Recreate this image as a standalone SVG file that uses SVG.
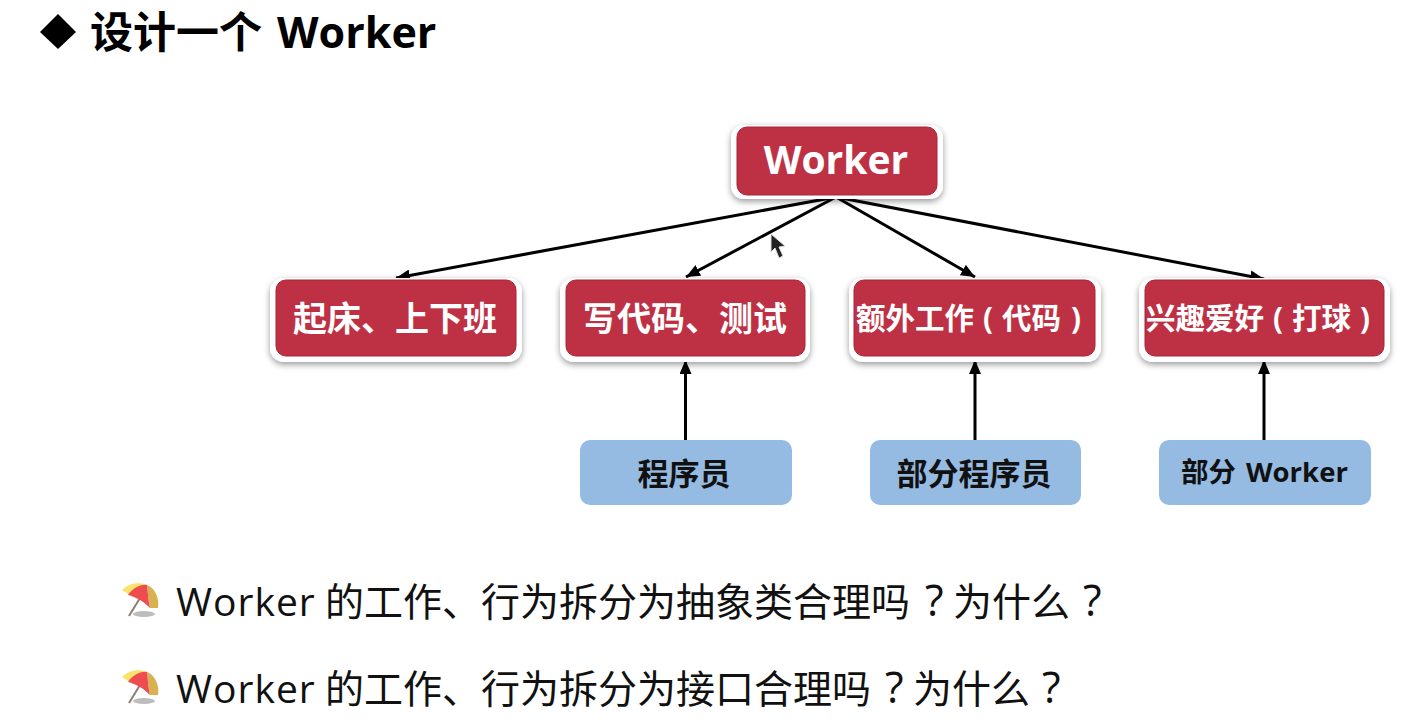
<svg xmlns="http://www.w3.org/2000/svg" width="1421" height="726" viewBox="0 0 1421 726">
<style>
text{font-family:"Open Sans","Noto Sans CJK SC","Noto Sans",sans-serif}
.halo{fill:#fff;filter:url(#sh)}
.red{fill:#be3144;stroke:#ad2237;stroke-width:1}
.blue{fill:#95bbe2}
.rt{fill:#fff;font-weight:700;font-size:34px;text-anchor:middle}
.rl{fill:#fff;font-weight:700;font-size:39px;text-anchor:middle}
.rs{fill:#fff;font-weight:700;font-size:29.500px}
.bt{fill:#111;font-weight:700;font-size:31px;text-anchor:middle}
.bs{fill:#111;font-weight:700;font-size:27.500px}
.q{fill:#111;font-size:39px}
.qm{font-size:43px}
.c{stroke:#000;stroke-width:3;fill:none;marker-end:url(#a)}
</style>
<defs>
<filter id="sh" x="-10%" y="-20%" width="120%" height="140%"><feDropShadow dx="0" dy="2.500" stdDeviation="3" flood-color="#000" flood-opacity=".4"/></filter>
<marker id="a" markerUnits="userSpaceOnUse" markerWidth="15" markerHeight="12" refX="14" refY="6" orient="auto"><path d="M0 0L14 6L0 12z" fill="#000"/></marker>
<g id="umb">
<ellipse cx="44" cy="44" rx="11" ry="3" fill="#bdbdbd"/>
<path d="M29 46L40 28" stroke="#8a8078" stroke-width="2"/>
<path d="M22 20C28 14 38 11 47 15L33 27z" fill="#f8e36c"/>
<path d="M47 15C54 17 60 28 58 38C55 38 52 38 50 38C48 30 48 22 47 15z" fill="#d8b150"/>
<path d="M28 25C32 19 40 14 47 15C48 22 48 30 50 38C43 31 36 27 28 25z" fill="#ee4d50"/>
</g>
</defs>
<rect width="1421" height="726" fill="#fff"/>
<g id="title">
<path d="M58 14L76 32L58 49L40 32z" fill="#000"/>
<text y="48" font-size="43" font-weight="700" fill="#000"><tspan x="90">设计一个 </tspan><tspan x="277">Worker</tspan></text>
</g>
<g id="connectors">
<path class="c" d="M836 197L396 278"/>
<path class="c" d="M836 197L686 277"/>
<path class="c" d="M836 197L975 277"/>
<path class="c" d="M836 197L1264 279"/>
<path class="c" d="M685.500 440V360"/>
<path class="c" d="M975 440V360"/>
<path class="c" d="M1264 440V360"/>
</g>
<g id="n-worker"><rect class="halo" x="731" y="125" width="212" height="74" rx="13"/><rect class="red" x="737" y="127" width="200" height="68" rx="10"/><text class="rl" x="836" y="174">Worker</text></g>
<g id="n-commute"><rect class="halo" x="270" y="278" width="252" height="84" rx="14"/><rect class="red" x="276" y="280" width="240" height="76" rx="10"/><text class="rt" x="395" y="331">起床、上下班</text></g>
<g id="n-code"><rect class="halo" x="560" y="278" width="250" height="84" rx="14"/><rect class="red" x="566" y="280" width="239" height="76" rx="10"/><text class="rt" x="685" y="331">写代码、测试</text></g>
<g id="n-extra"><rect class="halo" x="849" y="278" width="252" height="84" rx="14"/><rect class="red" x="854" y="280" width="241" height="76" rx="10"/><text class="rs" y="329"><tspan x="856">额外工作</tspan><tspan x="983">(</tspan><tspan x="1002">代码</tspan><tspan x="1071">)</tspan></text></g>
<g id="n-hobby"><rect class="halo" x="1139" y="278" width="251" height="84" rx="14"/><rect class="red" x="1145" y="280" width="239" height="76" rx="10"/><text class="rs" y="329"><tspan x="1146">兴趣爱好</tspan><tspan x="1273">(</tspan><tspan x="1292">打球</tspan><tspan x="1360">)</tspan></text></g>
<g id="n-dev"><rect class="blue" x="580" y="440" width="212" height="65" rx="10"/><text class="bt" x="684" y="485">程序员</text></g>
<g id="n-somedev"><rect class="blue" x="870" y="440" width="211" height="65" rx="10"/><text class="bt" x="974" y="485">部分程序员</text></g>
<g id="n-someworker"><rect class="blue" x="1159" y="440" width="212" height="65" rx="10"/><text class="bs" y="482"><tspan x="1181">部分 </tspan><tspan x="1246">Worker</tspan></text></g>
<path id="cursor" d="M771 234V252L775 248L779 258L783 256L779 247L785 246z" fill="#222" stroke="#ddd" stroke-width="1"/>
<use href="#umb" x="100" y="570"/>
<use href="#umb" x="100" y="657"/>
<text class="q" y="616"><tspan x="176" letter-spacing="1">Worker </tspan><tspan x="325">的工作、行为拆分为抽象类合理吗</tspan><tspan class="qm" x="925">?</tspan><tspan x="953">为什么</tspan><tspan class="qm" x="1083">?</tspan></text>
<text class="q" y="703"><tspan x="176" letter-spacing="1">Worker </tspan><tspan x="325">的工作、行为拆分为接口合理吗</tspan><tspan class="qm" x="885">?</tspan><tspan x="913">为什么</tspan><tspan class="qm" x="1042">?</tspan></text>
</svg>
